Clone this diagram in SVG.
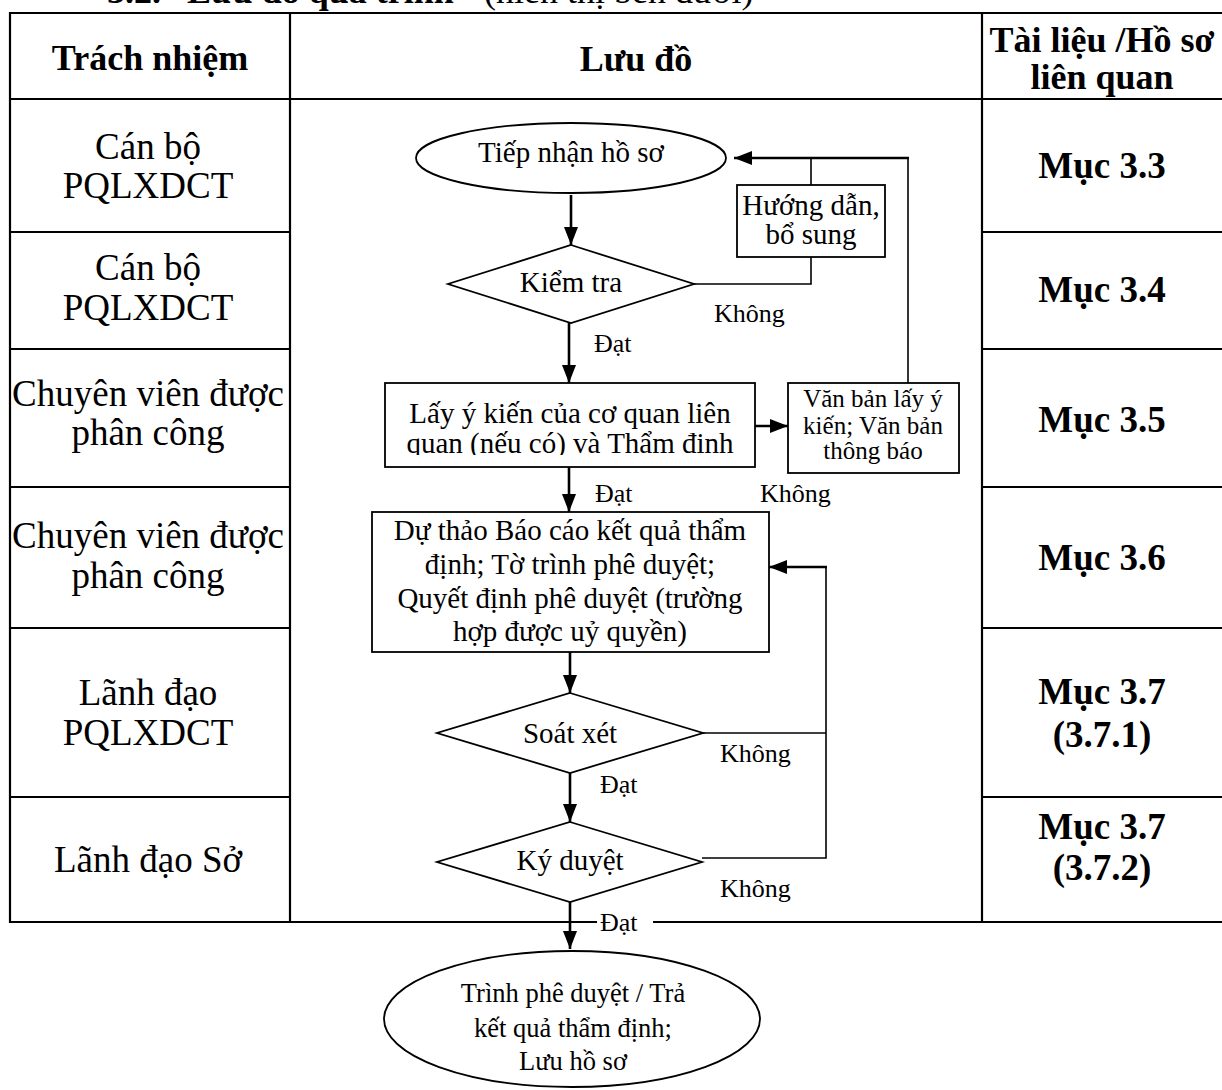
<svg xmlns="http://www.w3.org/2000/svg" width="1222" height="1090" viewBox="0 0 1222 1090">
<style>
text{font-family:"Liberation Serif","DejaVu Serif",serif;fill:#000}
.hd{font-size:36px;font-weight:bold;text-anchor:middle}
.rc{font-size:37px;font-weight:bold;text-anchor:middle}
.lc{font-size:37px;text-anchor:middle}
.ft{font-size:29px;text-anchor:middle}
.sm{font-size:25px;text-anchor:middle}
.lb{font-size:26px}
.grid{stroke:#000;stroke-width:2.2;fill:none}
.shape{stroke:#000;stroke-width:1.8;fill:#fff}
.ln{stroke:#000;stroke-width:1.6;fill:none}
.ar{stroke:#000;stroke-width:2.6;fill:none;marker-end:url(#ah)}
</style>
<defs>
<marker id="ah" markerUnits="userSpaceOnUse" markerWidth="18" markerHeight="14" refX="18" refY="7" orient="auto">
<path d="M0,0 L18,7 L0,14 z" fill="#000"/>
</marker>
<clipPath id="clipLay"><rect x="385" y="383" width="370" height="72"/></clipPath>
</defs>
<rect width="1222" height="1090" fill="#fff"/>

<g id="heading">
<text y="2.5" style="font-size:36px;font-weight:bold"><tspan x="107">3.2.</tspan><tspan x="187">Lưu đồ quá trình</tspan><tspan x="484" style="font-weight:normal">(hiển thị bên dưới)</tspan></text>
</g>

<g id="table">
<line class="grid" x1="9" y1="13" x2="1222" y2="13"/>
<line class="grid" x1="9" y1="99" x2="1222" y2="99"/>
<line class="grid" x1="10" y1="12" x2="10" y2="923"/>
<line class="grid" x1="290" y1="12" x2="290" y2="923"/>
<line class="grid" x1="982" y1="12" x2="982" y2="923"/>
<line class="grid" x1="9" y1="232" x2="290" y2="232"/>
<line class="grid" x1="9" y1="349" x2="290" y2="349"/>
<line class="grid" x1="9" y1="487" x2="290" y2="487"/>
<line class="grid" x1="9" y1="628" x2="290" y2="628"/>
<line class="grid" x1="9" y1="797" x2="290" y2="797"/>
<line class="grid" x1="982" y1="232" x2="1222" y2="232"/>
<line class="grid" x1="982" y1="349" x2="1222" y2="349"/>
<line class="grid" x1="982" y1="487" x2="1222" y2="487"/>
<line class="grid" x1="982" y1="628" x2="1222" y2="628"/>
<line class="grid" x1="982" y1="797" x2="1222" y2="797"/>
<line class="grid" x1="9" y1="922" x2="597" y2="922"/>
<line class="grid" x1="653" y1="922" x2="1222" y2="922"/>
<text class="hd" x="150" y="70">Trách nhiệm</text>
<text class="hd" x="636" y="71">Lưu đồ</text>
<text class="hd" x="1102" y="52">Tài liệu /Hồ sơ</text>
<text class="hd" x="1102" y="89">liên quan</text>
<text class="lc" x="148" y="159">Cán bộ</text>
<text class="lc" x="148" y="198">PQLXDCT</text>
<text class="lc" x="148" y="280">Cán bộ</text>
<text class="lc" x="148" y="320">PQLXDCT</text>
<text class="lc" x="148" y="406">Chuyên viên được</text>
<text class="lc" x="148" y="445">phân công</text>
<text class="lc" x="148" y="548">Chuyên viên được</text>
<text class="lc" x="148" y="588">phân công</text>
<text class="lc" x="148" y="705">Lãnh đạo</text>
<text class="lc" x="148" y="745">PQLXDCT</text>
<text class="lc" x="148" y="872">Lãnh đạo Sở</text>
<text class="rc" x="1102" y="178">Mục 3.3</text>
<text class="rc" x="1102" y="302">Mục 3.4</text>
<text class="rc" x="1102" y="432">Mục 3.5</text>
<text class="rc" x="1102" y="570">Mục 3.6</text>
<text class="rc" x="1102" y="704">Mục 3.7</text>
<text class="rc" x="1102" y="747">(3.7.1)</text>
<text class="rc" x="1102" y="839">Mục 3.7</text>
<text class="rc" x="1102" y="880">(3.7.2)</text>
</g>

<g id="connectors">
<line class="ar" x1="571" y1="195" x2="571" y2="245"/>
<line class="ar" x1="569" y1="323" x2="569" y2="383"/>
<polyline class="ln" points="694,284 811,284 811,257"/>
<line class="ln" x1="811" y1="185" x2="811" y2="158"/>
<line class="ln" x1="908" y1="383" x2="908" y2="157"/>
<line class="ar" x1="909" y1="158" x2="734" y2="158"/>
<line class="ar" x1="755" y1="426" x2="788" y2="426"/>
<line class="ar" x1="569" y1="467" x2="569" y2="512"/>
<line class="ar" x1="570" y1="652" x2="570" y2="693"/>
<polyline class="ln" points="703,733 826,733"/>
<polyline class="ln" points="702,858 826,858 826,566"/>
<line class="ar" x1="827" y1="567" x2="769" y2="567"/>
<line class="ar" x1="570" y1="773" x2="570" y2="822"/>
<line class="ar" x1="570" y1="902" x2="570" y2="949"/>
<text class="lb" x="714" y="322">Không</text>
<text class="lb" x="594" y="352">Đạt</text>
<text class="lb" x="760" y="502">Không</text>
<text class="lb" x="595" y="502">Đạt</text>
<text class="lb" x="720" y="762">Không</text>
<text class="lb" x="600" y="793">Đạt</text>
<text class="lb" x="720" y="897">Không</text>
<text class="lb" x="600" y="931">Đạt</text>
</g>

<g id="n-tiepnhan">
<ellipse class="shape" cx="571" cy="158" rx="155" ry="35"/>
<text class="ft" x="571" y="162">Tiếp nhận hồ sơ</text>
</g>
<g id="n-kiemtra">
<polygon class="shape" points="571,245 694,284 571,323 448,284"/>
<text class="ft" x="571" y="292">Kiểm tra</text>
</g>
<g id="n-huongdan">
<rect class="shape" x="737" y="185" width="148" height="72"/>
<text class="ft" x="811" y="215">Hướng dẫn,</text>
<text class="ft" x="811" y="244">bổ sung</text>
</g>
<g id="n-layykien">
<rect class="shape" x="385" y="383" width="370" height="84"/>
<g clip-path="url(#clipLay)">
<text class="ft" x="570" y="423">Lấy ý kiến của cơ quan liên</text>
<text class="ft" x="570" y="453">quan (nếu có) và Thẩm định</text>
</g>
</g>
<g id="n-vanban">
<rect class="shape" x="788" y="383" width="171" height="90"/>
<text class="sm" x="873" y="407">Văn bản lấy ý</text>
<text class="sm" x="873" y="434">kiến; Văn bản</text>
<text class="sm" x="873" y="459">thông báo</text>
</g>
<g id="n-duthao">
<rect class="shape" x="372" y="512" width="397" height="140"/>
<text class="ft" x="570" y="540">Dự thảo Báo cáo kết quả thẩm</text>
<text class="ft" x="570" y="574">định; Tờ trình phê duyệt;</text>
<text class="ft" x="570" y="608">Quyết định phê duyệt (trường</text>
<text class="ft" x="570" y="641">hợp được uỷ quyền)</text>
</g>
<g id="n-soatxet">
<polygon class="shape" points="570,693 703,733 570,773 437,733"/>
<text class="ft" x="570" y="743">Soát xét</text>
</g>
<g id="n-kyduyet">
<polygon class="shape" points="570,822 702,862 570,902 437,862"/>
<text class="ft" x="570" y="870">Ký duyệt</text>
</g>
<g id="n-trinh">
<ellipse class="shape" cx="572" cy="1019" rx="188" ry="68"/>
<text class="sm" x="573" y="1002" style="font-size:26.5px">Trình phê duyệt / Trả</text>
<text class="sm" x="573" y="1037" style="font-size:26.5px">kết quả thẩm định;</text>
<text class="sm" x="573" y="1070" style="font-size:26.5px">Lưu hồ sơ</text>
</g>
</svg>
